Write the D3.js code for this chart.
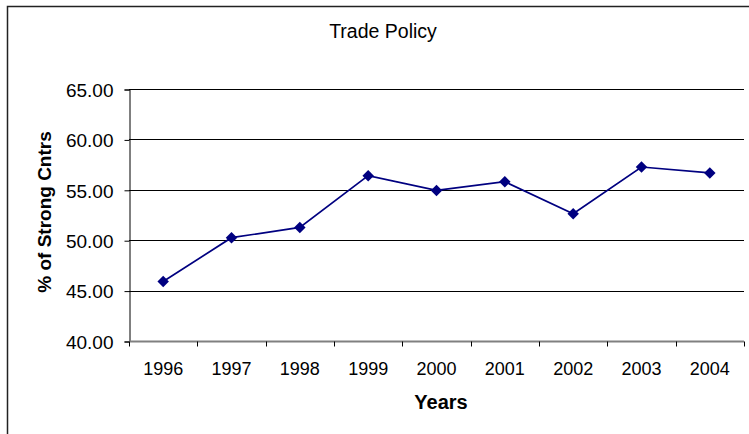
<!DOCTYPE html>
<html>
<head>
<meta charset="utf-8">
<script src="https://cdn.jsdelivr.net/npm/d3@7"></script>
<style>
  body { margin: 0; background: #fff; }
  text { font-family: "Liberation Sans", Arial, sans-serif; }
</style>
</head>
<body>
<div id="chart"></div>
<script>
// chart data
var years = ['1996', '1997', '1998', '1999', '2000', '2001', '2002', '2003', '2004'];
var strongCntrs = [45.9, 50.25, 51.27, 56.4, 54.94, 55.8, 52.63, 57.26, 56.67];
var yTicks = [40, 45, 50, 55, 60, 65];

let width = 749;
let height = 434;

let svg = d3.select('#chart').append('svg')
    .attr('width', width)
    .attr('height', height);

// outer frame (open at right and bottom, as in the picture)
svg.append('path')
    .attr('d', 'M7.5,' + height + ' V6.5 H' + width)
    .attr('fill', 'none')
    .attr('stroke', '#222')
    .attr('stroke-width', 1.5);

let plot = { left: 129, top: 89, right: 744, bottom: 341 };

let x = d3.scaleBand()
    .domain(years)
    .range([plot.left, plot.right]);

let y = d3.scaleLinear()
    .domain([40, 65])
    .range([plot.bottom, plot.top]);

// gridlines
svg.selectAll('.grid')
    .data(yTicks.filter(d => d > 40))
    .join('line')
    .attr('class', 'grid')
    .attr('x1', plot.left)
    .attr('x2', plot.right)
    .attr('y1', d => Math.round(y(d)) + 0.5)
    .attr('y2', d => Math.round(y(d)) + 0.5)
    .attr('stroke', '#000')
    .attr('stroke-width', 1);

// y axis
let yAxis = svg.append('g')
    .attr('transform', 'translate(' + (plot.left + 0.5) + ',0.5)')
    .call(d3.axisLeft(y).tickValues(yTicks).tickFormat(d3.format('.2f')).tickSize(5).tickPadding(11));
yAxis.select('.domain').attr('stroke', '#000');
yAxis.selectAll('.tick line').attr('stroke', '#000');
yAxis.selectAll('text')
    .style('font-size', '19px')
    .attr('dy', '0.36em')
    .attr('fill', '#000');

// x axis: ticks sit between categories
let xAxis = svg.append('g')
    .attr('transform', 'translate(0,' + (plot.bottom + 0.5) + ')');
xAxis.append('line')
    .attr('x1', plot.left)
    .attr('x2', plot.right)
    .attr('stroke', '#808080')
    .attr('stroke-width', 2);
xAxis.selectAll('.xtick')
    .data([years[0]].concat(years))
    .join('line')
    .attr('class', 'xtick')
    .attr('x1', (d, i) => Math.round(i === 0 ? x(d) : x(d) + x.bandwidth()) + 0.5)
    .attr('x2', (d, i) => Math.round(i === 0 ? x(d) : x(d) + x.bandwidth()) + 0.5)
    .attr('y1', 0)
    .attr('y2', 5)
    .attr('stroke', '#000');
xAxis.selectAll('.xlabel')
    .data(years)
    .join('text')
    .attr('class', 'xlabel')
    .attr('x', d => x(d) + x.bandwidth() / 2)
    .attr('y', 33)
    .attr('text-anchor', 'middle')
    .style('font-size', '18px')
    .text(d => d);

// line + markers
let line = d3.line()
    .x((d, i) => x(years[i]) + x.bandwidth() / 2)
    .y(d => y(d));

svg.append('path')
    .datum(strongCntrs)
    .attr('d', line)
    .attr('fill', 'none')
    .attr('stroke', '#000080')
    .attr('stroke-width', 1.7);

let diamond = d3.symbol().type(d3.symbolDiamond2).size(84);
svg.selectAll('.marker')
    .data(strongCntrs)
    .join('path')
    .attr('class', 'marker')
    .attr('d', diamond)
    .attr('transform', (d, i) => 'translate(' + (x(years[i]) + x.bandwidth() / 2) + ',' + y(d) + ')')
    .attr('fill', '#000080');

// titles
svg.append('text')
    .attr('x', 383)
    .attr('y', 38)
    .attr('text-anchor', 'middle')
    .style('font-size', '19.5px')
    .text('Trade Policy');

svg.append('text')
    .attr('transform', 'translate(51,212) rotate(-90)')
    .attr('text-anchor', 'middle')
    .style('font-size', '19px')
    .style('font-weight', 'bold')
    .text('% of Strong Cntrs');

svg.append('text')
    .attr('x', 441)
    .attr('y', 409)
    .attr('text-anchor', 'middle')
    .style('font-size', '20px')
    .style('font-weight', 'bold')
    .text('Years');
</script>
</body>
</html>
